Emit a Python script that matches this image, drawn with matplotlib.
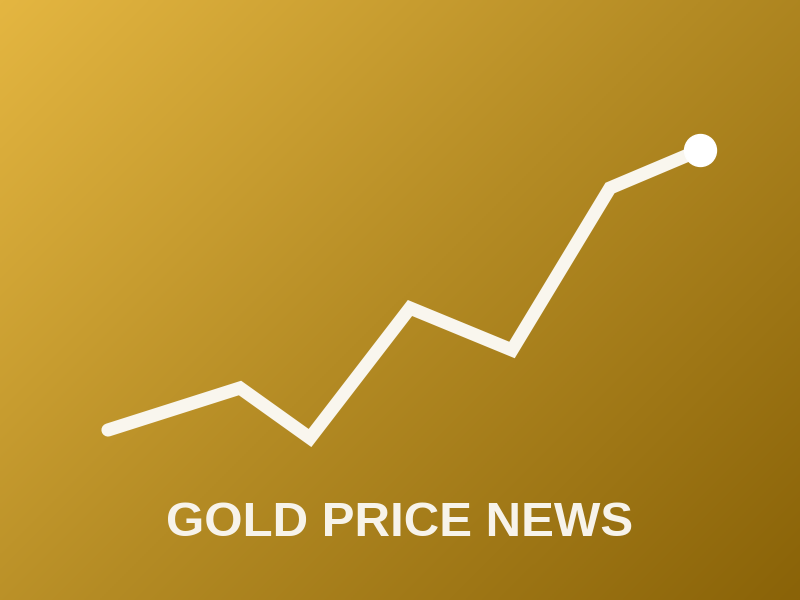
import numpy as np
import matplotlib
matplotlib.use("Agg")
import matplotlib.pyplot as plt
from matplotlib.colors import LinearSegmentedColormap

# data (chart units)
x_vals = [108, 240, 310, 410, 512, 610, 700]
price = [170, 212, 162, 292, 250, 412, 450]
title = "GOLD PRICE NEWS"

fig = plt.figure(figsize=(8, 6), dpi=100)
ax = fig.add_axes([0, 0, 1, 1])
ax.set_xlim(0, 800)
ax.set_ylim(0, 600)
ax.axis("off")

# diagonal gradient background (light top-left -> dark bottom-right)
cmap = LinearSegmentedColormap.from_list("gold", ["#E4B641", "#B48B24", "#8A6308"])
gx, gy = np.meshgrid(np.linspace(0, 1, 400), np.linspace(0, 1, 300))
grad = (gx * 800 + (1 - gy) * 600) / 1400.0
ax.imshow(grad, cmap=cmap, extent=[0, 800, 0, 600], origin="lower",
          aspect="auto", zorder=0, interpolation="bilinear")
ax.set_xlim(0, 800)
ax.set_ylim(0, 600)

ax.plot(x_vals, price, color="#F9F6EE", lw=9.5, solid_capstyle="round",
        solid_joinstyle="miter", zorder=2)
ax.plot(x_vals[-1:], price[-1:], "o", color="#FFFFFF", ms=23, zorder=3)

ax.text(400, 77, title, ha="center", va="center", color="#F7F3EA",
        fontsize=35.5, fontweight="bold", family="Liberation Sans", zorder=4)

fig.savefig("out.png", dpi=100)
